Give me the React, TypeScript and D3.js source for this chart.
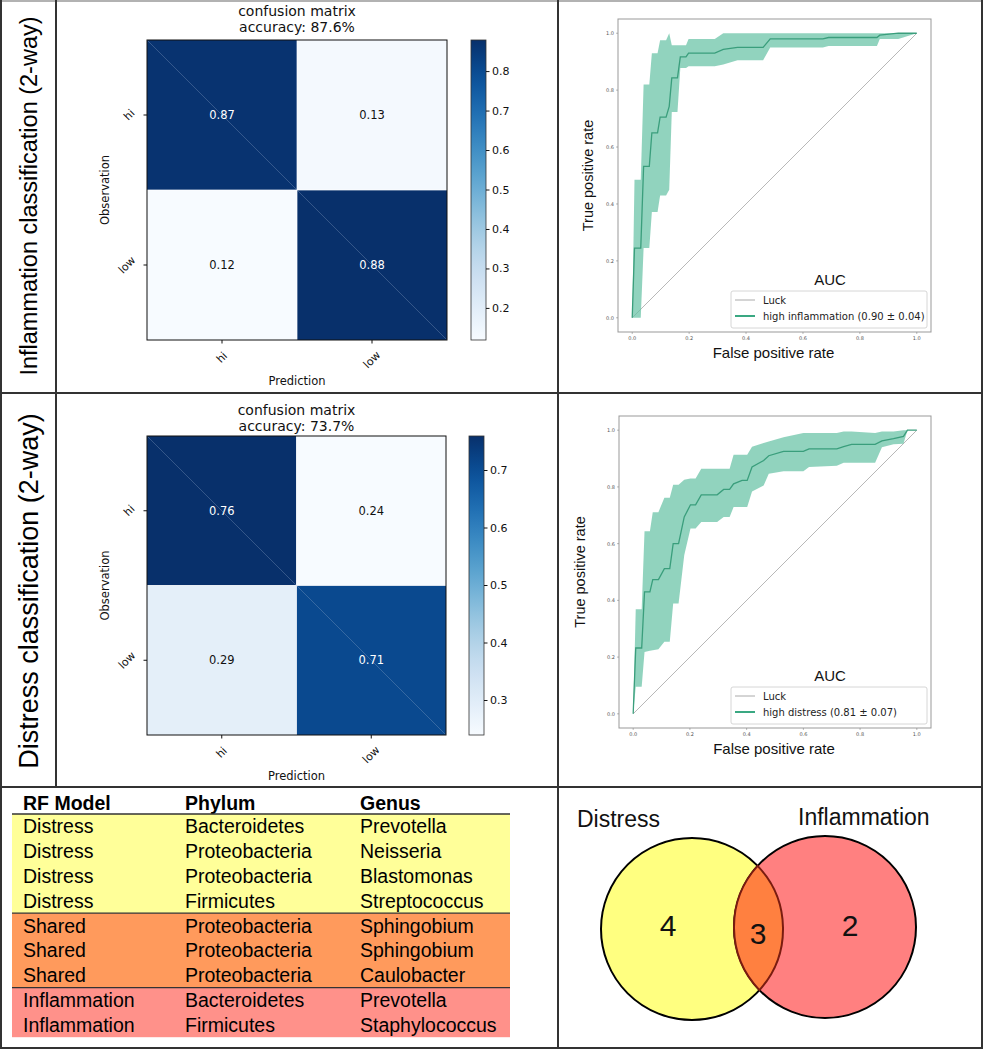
import React from "react";
import * as d3 from "d3";

const W = 1000;
const H = 1050;

// ---------- data ----------
const classes = ["hi", "low"];
const inflammationMatrix = [
  [0.87, 0.13],
  [0.12, 0.88],
];
const distressMatrix = [
  [0.76, 0.24],
  [0.29, 0.71],
];
const inflammationAccuracy = "87.6%";
const distressAccuracy = "73.7%";
const inflammationCbTicks = [0.2, 0.3, 0.4, 0.5, 0.6, 0.7, 0.8];
const distressCbTicks = [0.3, 0.4, 0.5, 0.6, 0.7];
const rocTicks = [0, 0.2, 0.4, 0.6, 0.8, 1.0];

const inflFpr = [0, 0.008, 0.03, 0.04, 0.06, 0.069, 0.089, 0.098, 0.119, 0.13, 0.139, 0.159, 0.169, 0.189, 0.198, 0.29, 0.32, 0.37, 0.46, 0.485, 0.67, 0.69, 0.86, 0.87, 0.935, 1.0];
const inflMean = [0, 0.245, 0.245, 0.532, 0.532, 0.65, 0.65, 0.705, 0.705, 0.743, 0.843, 0.843, 0.917, 0.917, 0.93, 0.93, 0.943, 0.95, 0.95, 0.98, 0.98, 0.985, 0.985, 0.993, 1.0, 1.0];
const inflUpper = [0, 0.485, 0.485, 0.82, 0.82, 0.93, 0.93, 0.975, 0.975, 1.0, 0.958, 0.958, 0.958, 0.958, 0.98, 0.98, 1.0, 1.0, 1.0, 1.0, 1.0, 1.0, 1.0, 1.0, 1.0, 1.0];
const inflLower = [0, 0, 0, 0.245, 0.245, 0.372, 0.372, 0.43, 0.43, 0.45, 0.723, 0.723, 0.878, 0.878, 0.884, 0.884, 0.89, 0.905, 0.905, 0.95, 0.95, 0.955, 0.955, 0.98, 0.98, 1.0];

const distFpr = [0, 0.009, 0.03, 0.04, 0.059, 0.069, 0.089, 0.11, 0.129, 0.141, 0.16, 0.18, 0.202, 0.22, 0.24, 0.296, 0.319, 0.34, 0.354, 0.384, 0.402, 0.419, 0.46, 0.478, 0.53, 0.6, 0.62, 0.718, 0.742, 0.77, 0.853, 0.877, 0.918, 0.953, 0.967, 1.0];
const distMean = [0, 0.232, 0.232, 0.43, 0.43, 0.473, 0.473, 0.512, 0.512, 0.6, 0.6, 0.694, 0.737, 0.737, 0.772, 0.772, 0.791, 0.791, 0.811, 0.823, 0.823, 0.87, 0.893, 0.91, 0.925, 0.925, 0.934, 0.934, 0.942, 0.95, 0.95, 0.962, 0.97, 0.978, 1.0, 1.0];
const distUpper = [0, 0.369, 0.369, 0.644, 0.644, 0.711, 0.711, 0.762, 0.762, 0.808, 0.808, 0.825, 0.83, 0.83, 0.864, 0.864, 0.864, 0.864, 0.913, 0.913, 0.913, 0.942, 0.955, 0.96, 0.975, 0.99, 0.99, 0.99, 0.995, 0.995, 0.99, 0.995, 0.995, 1.0, 1.0, 1.0];
const distLower = [0, 0.095, 0.095, 0.218, 0.222, 0.224, 0.228, 0.254, 0.254, 0.389, 0.389, 0.559, 0.653, 0.653, 0.676, 0.676, 0.694, 0.694, 0.729, 0.729, 0.729, 0.784, 0.805, 0.846, 0.855, 0.855, 0.87, 0.875, 0.885, 0.885, 0.885, 0.94, 0.95, 0.952, 1.0, 1.0];

const rowLabels = ["Inflammation classification (2-way)", "Distress classification (2-way)"];
const rocLegendLabels = ["high inflammation (0.90 \u00b1 0.04)", "high distress (0.81 \u00b1 0.07)"];

const tableHeader = ["RF Model", "Phylum", "Genus"];
const tableModel = ["Distress", "Distress", "Distress", "Distress", "Shared", "Shared", "Shared", "Inflammation", "Inflammation"];
const tablePhylum = ["Bacteroidetes", "Proteobacteria", "Proteobacteria", "Firmicutes", "Proteobacteria", "Proteobacteria", "Proteobacteria", "Bacteroidetes", "Firmicutes"];
const tableGenus = ["Prevotella", "Neisseria", "Blastomonas", "Streptococcus", "Sphingobium", "Sphingobium", "Caulobacter", "Prevotella", "Staphylococcus"];
const groupColors: Record<string, string> = { Distress: "#ffff99", Shared: "#ff9a5c", Inflammation: "#ff918a" };

const vennLabels = ["Distress", "Inflammation"];
const vennCounts = [4, 3, 2];

const SANS = "'Liberation Sans', Arial, sans-serif";
const DEJAVU = "'DejaVu Sans', sans-serif";

// ---------- confusion matrix ----------
function ConfusionMatrix(props: any) {
  const { id, x0, y0, size, matrix, accuracy, cbX, cbW, cbTicks, titleY } = props;
  const flat: number[] = matrix.flat();
  const vmin = d3.min(flat) as number;
  const vmax = d3.max(flat) as number;
  const color = d3.scaleSequential(d3.interpolateBlues).domain([vmin, vmax]);
  const band = d3.scaleBand().domain(classes).range([0, size]);
  const cb = d3.scaleLinear().domain([vmin, vmax]).range([y0 + size, y0]);
  const stops = d3.range(0, 1.0001, 0.05);
  const fs = 11;
  const cx = x0 + size / 2;
  return (
    <g>
      <defs>
        <linearGradient id={id} x1="0" y1="1" x2="0" y2="0">
          {stops.map((t) => (
            <stop key={t} offset={`${t * 100}%`} stopColor={d3.interpolateBlues(t)} />
          ))}
        </linearGradient>
      </defs>
      <text x={cx} y={titleY} textAnchor="middle" fontFamily={DEJAVU} fontSize={14} fill="#111">confusion matrix</text>
      <text x={cx} y={titleY + 16} textAnchor="middle" fontFamily={DEJAVU} fontSize={14} fill="#111">{`accuracy: ${accuracy}`}</text>
      {matrix.map((row: number[], i: number) =>
        row.map((v: number, j: number) => (
          <rect key={`${i}-${j}`} x={x0 + (band(classes[j]) as number)} y={y0 + (band(classes[i]) as number)} width={band.bandwidth()} height={band.bandwidth()} fill={color(v)} />
        ))
      )}
      <line x1={x0 + size / 2} x2={x0 + size / 2} y1={y0} y2={y0 + size} stroke="#ffffff" strokeOpacity={0.7} strokeWidth={1} />
      <line x1={x0} x2={x0 + size} y1={y0 + size / 2} y2={y0 + size / 2} stroke="#ffffff" strokeOpacity={0.7} strokeWidth={1} />
      <line x1={x0} y1={y0} x2={x0 + size} y2={y0 + size} stroke="#9fb3cf" strokeOpacity={0.3} strokeWidth={1} />
      {matrix.map((row: number[], i: number) =>
        row.map((v: number, j: number) => (
          <text key={`t${i}-${j}`} x={x0 + (band(classes[j]) as number) + band.bandwidth() / 2} y={y0 + (band(classes[i]) as number) + band.bandwidth() / 2} textAnchor="middle" dominantBaseline="central" fontFamily={DEJAVU} fontSize={11.5} fill={v > vmax / 2 ? "#ffffff" : "#111"}>
            {v.toFixed(2)}
          </text>
        ))
      )}
      <rect x={x0} y={y0} width={size} height={size} fill="none" stroke="#111" strokeWidth={1} />
      {classes.map((c) => {
        const yc = y0 + (band(c) as number) + band.bandwidth() / 2;
        const w = c.length * 0.6 * fs;
        const bw = (w + fs) * 0.707;
        const lx = x0 - 9 - bw / 2;
        return (
          <g key={`y${c}`}>
            <line x1={x0} x2={x0 - 3.5} y1={yc} y2={yc} stroke="#111" />
            <text x={lx} y={yc} transform={`rotate(-45 ${lx} ${yc})`} textAnchor="middle" dominantBaseline="central" fontFamily={DEJAVU} fontSize={fs} fill="#111">{c}</text>
          </g>
        );
      })}
      {classes.map((c) => {
        const xc = x0 + (band(c) as number) + band.bandwidth() / 2;
        const w = c.length * 0.6 * fs;
        const bh = (w + fs) * 0.707;
        const ly = y0 + size + 9 + bh / 2;
        return (
          <g key={`x${c}`}>
            <line x1={xc} x2={xc} y1={y0 + size} y2={y0 + size + 3.5} stroke="#111" />
            <text x={xc} y={ly} transform={`rotate(-45 ${xc} ${ly})`} textAnchor="middle" dominantBaseline="central" fontFamily={DEJAVU} fontSize={fs} fill="#111">{c}</text>
          </g>
        );
      })}
      <text x={105} y={y0 + size / 2} transform={`rotate(-90 105 ${y0 + size / 2})`} textAnchor="middle" dominantBaseline="central" fontFamily={DEJAVU} fontSize={11.5} fill="#111">Observation</text>
      <text x={cx} y={y0 + size + 45} textAnchor="middle" fontFamily={DEJAVU} fontSize={11.5} fill="#111">Prediction</text>
      <rect x={cbX} y={y0} width={cbW} height={size} fill={`url(#${id})`} stroke="#333" strokeWidth={0.8} />
      {cbTicks.map((t: number) => (
        <g key={`cb${t}`}>
          <line x1={cbX + cbW} x2={cbX + cbW + 3.5} y1={cb(t)} y2={cb(t)} stroke="#111" />
          <text x={cbX + cbW + 6} y={cb(t)} dominantBaseline="central" fontFamily={DEJAVU} fontSize={11} fill="#111">{t.toFixed(1)}</text>
        </g>
      ))}
    </g>
  );
}

// ---------- ROC ----------
function Roc(props: any) {
  const { left, top, width, height, fpr, mean, lower, upper, legend, yLabelX } = props;
  const xs = d3.scaleLinear().domain([-0.05, 1.05]).range([left, left + width]);
  const ys = d3.scaleLinear().domain([-0.05, 1.05]).range([top + height, top]);
  const idx = d3.range(fpr.length);
  const area = d3.area<number>().x((i) => xs(fpr[i])).y0((i) => ys(lower[i])).y1((i) => ys(upper[i]));
  const line = d3.line<number>().x((i) => xs(fpr[i])).y((i) => ys(mean[i]));
  const lgW = 196;
  const lgH = 37;
  const lgX = left + width - 4 - lgW;
  const lgY = top + height - 4 - lgH;
  return (
    <g>
      <rect x={left} y={top} width={width} height={height} fill="#fff" stroke="#999" strokeWidth={1} />
      <line x1={xs(0)} y1={ys(0)} x2={xs(1)} y2={ys(1)} stroke="#b8b8b8" strokeWidth={1} />
      <path d={area(idx) as string} fill="#66c2a5" fillOpacity={0.72} stroke="none" />
      <path d={line(idx) as string} fill="none" stroke="#3a9e7c" strokeWidth={1.3} />
      {rocTicks.map((t) => (
        <g key={`rx${t}`}>
          <line x1={xs(t)} x2={xs(t)} y1={top + height} y2={top + height + 2} stroke="#777" strokeWidth={0.5} />
          <text x={xs(t)} y={top + height + 8} textAnchor="middle" fontFamily={DEJAVU} fontSize={5} fill="#555">{t.toFixed(1)}</text>
          <line x1={left} x2={left - 2} y1={ys(t)} y2={ys(t)} stroke="#777" strokeWidth={0.5} />
          <text x={left - 4} y={ys(t)} textAnchor="end" dominantBaseline="central" fontFamily={DEJAVU} fontSize={5} fill="#555">{t.toFixed(1)}</text>
        </g>
      ))}
      <text x={yLabelX} y={top + height / 2} transform={`rotate(-90 ${yLabelX} ${top + height / 2})`} textAnchor="middle" dominantBaseline="central" fontFamily={SANS} fontSize={14.5} fill="#111">True positive rate</text>
      <text x={left + width / 2 - 1} y={top + height + 26} textAnchor="middle" fontFamily={SANS} fontSize={15} fill="#111">False positive rate</text>
      <text x={lgX + 99} y={lgY - 6} textAnchor="middle" fontFamily={SANS} fontSize={15} fill="#111">AUC</text>
      <rect x={lgX} y={lgY} width={lgW} height={lgH} rx={2} fill="#fff" stroke="#ccc" strokeWidth={0.8} />
      <line x1={lgX + 4} x2={lgX + 24} y1={lgY + 9} y2={lgY + 9} stroke="#aaa" strokeWidth={1} />
      <text x={lgX + 32} y={lgY + 9} dominantBaseline="central" fontFamily={DEJAVU} fontSize={10} fill="#222">Luck</text>
      <line x1={lgX + 4} x2={lgX + 24} y1={lgY + 25} y2={lgY + 25} stroke="#3aa882" strokeWidth={2} />
      <text x={lgX + 32} y={lgY + 25} dominantBaseline="central" fontFamily={DEJAVU} fontSize={10} fill="#222">{legend}</text>
    </g>
  );
}

// ---------- table ----------
function GenusTable() {
  const colX = [23, 185, 360];
  const bandX0 = 12;
  const bandX1 = 510;
  const startY = 814;
  const rowH = 24.8;
  const fs = 19.5;
  const groups: { name: string; start: number; end: number }[] = [];
  tableModel.forEach((m, i) => {
    const g = groups[groups.length - 1];
    if (g && g.name === m) g.end = i + 1;
    else groups.push({ name: m, start: i, end: i + 1 });
  });
  return (
    <g>
      {tableHeader.map((h, i) => (
        <text key={h} x={colX[i]} y={810} fontFamily={SANS} fontWeight="bold" fontSize={fs} fill="#000">{h}</text>
      ))}
      {groups.map((g) => (
        <rect key={g.name} x={bandX0} y={startY + g.start * rowH} width={bandX1 - bandX0} height={(g.end - g.start) * rowH} fill={groupColors[g.name]} />
      ))}
      {groups.map((g) => (
        <line key={`l${g.name}`} x1={bandX0} x2={bandX1} y1={startY + g.start * rowH} y2={startY + g.start * rowH} stroke="#333" strokeWidth={1.3} />
      ))}
      {tableModel.map((m, i) => {
        const yb = startY + i * rowH + rowH / 2 + 7;
        return (
          <g key={`r${i}`}>
            <text x={colX[0]} y={yb} fontFamily={SANS} fontSize={fs} fill="#000">{m}</text>
            <text x={colX[1]} y={yb} fontFamily={SANS} fontSize={fs} fill="#000">{tablePhylum[i]}</text>
            <text x={colX[2]} y={yb} fontFamily={SANS} fontSize={fs} fill="#000">{tableGenus[i]}</text>
          </g>
        );
      })}
    </g>
  );
}

// ---------- venn ----------
function Venn() {
  const c1 = { x: 692, y: 929, r: 91 };
  const c2 = { x: 825, y: 927, r: 91 };
  const dx = c2.x - c1.x;
  const dy = c2.y - c1.y;
  const d = Math.hypot(dx, dy);
  const a = (c1.r * c1.r - c2.r * c2.r + d * d) / (2 * d);
  const h = Math.sqrt(c1.r * c1.r - a * a);
  const px = c1.x + (a * dx) / d;
  const py = c1.y + (a * dy) / d;
  const p1 = { x: px + (h * dy) / d, y: py - (h * dx) / d };
  const p2 = { x: px - (h * dy) / d, y: py + (h * dx) / d };
  const top = p1.y < p2.y ? p1 : p2;
  const bot = p1.y < p2.y ? p2 : p1;
  const lens = `M${top.x},${top.y} A${c1.r},${c1.r} 0 0 1 ${bot.x},${bot.y} A${c2.r},${c2.r} 0 0 1 ${top.x},${top.y} Z`;
  return (
    <g>
      <circle cx={c1.x} cy={c1.y} r={c1.r} fill="#ffff80" stroke="#000" strokeWidth={2} />
      <circle cx={c2.x} cy={c2.y} r={c2.r} fill="#ff8080" stroke="#000" strokeWidth={2} />
      <path d={lens} fill="#ff8040" stroke="#7a1c10" strokeWidth={2} />
      <text x={577} y={827} fontFamily={SANS} fontSize={23} fill="#111">{vennLabels[0]}</text>
      <text x={798} y={825} fontFamily={SANS} fontSize={23} fill="#111">{vennLabels[1]}</text>
      <text x={668} y={936} textAnchor="middle" fontFamily={SANS} fontSize={30} fill="#111">{vennCounts[0]}</text>
      <text x={758} y={944} textAnchor="middle" fontFamily={SANS} fontSize={30} fill="#111">{vennCounts[1]}</text>
      <text x={850} y={936} textAnchor="middle" fontFamily={SANS} fontSize={30} fill="#111">{vennCounts[2]}</text>
    </g>
  );
}

export default function App() {
  return (
    <div style={{ position: "absolute", left: 0, top: 0 }}>
      <svg width={W} height={H} viewBox={`0 0 ${W} ${H}`} style={{ display: "block", background: "#fff" }}>
        <rect x={0} y={0} width={W} height={H} fill="#fff" />
        {/* row labels */}
        <text x={29} y={196} transform="rotate(-90 29 196)" textAnchor="middle" dominantBaseline="central" fontFamily={SANS} fontSize={23.5} fill="#000">{rowLabels[0]}</text>
        <text x={29} y={591} transform="rotate(-90 29 591)" textAnchor="middle" dominantBaseline="central" fontFamily={SANS} fontSize={27} fill="#000">{rowLabels[1]}</text>

        <ConfusionMatrix id="cb1" x0={147} y0={40} size={300} matrix={inflammationMatrix} accuracy={inflammationAccuracy} cbX={471} cbW={15} cbTicks={inflammationCbTicks} titleY={16} />
        <ConfusionMatrix id="cb2" x0={147} y0={436} size={299} matrix={distressMatrix} accuracy={distressAccuracy} cbX={469} cbW={15} cbTicks={distressCbTicks} titleY={415} />

        <Roc left={618} top={19} width={313} height={313} fpr={inflFpr} mean={inflMean} lower={inflLower} upper={inflUpper} legend={rocLegendLabels[0]} yLabelX={588} />
        <Roc left={619} top={416} width={312} height={312} fpr={distFpr} mean={distMean} lower={distLower} upper={distUpper} legend={rocLegendLabels[1]} yLabelX={580} />

        <GenusTable />
        <Venn />

        {/* frame */}
        <line x1={0} x2={982} y1={1} y2={1} stroke="#999" strokeWidth={1.5} />
        <line x1={1} x2={1} y1={0} y2={1049} stroke="#333" strokeWidth={2} />
        <line x1={982} x2={982} y1={0} y2={1049} stroke="#333" strokeWidth={2} />
        <line x1={0} x2={983} y1={1048} y2={1048} stroke="#333" strokeWidth={2} />
        <line x1={56} x2={56} y1={0} y2={787} stroke="#333" strokeWidth={2} />
        <line x1={558} x2={558} y1={0} y2={1049} stroke="#333" strokeWidth={2} />
        <line x1={0} x2={982} y1={393} y2={393} stroke="#333" strokeWidth={2} />
        <line x1={0} x2={982} y1={787} y2={787} stroke="#333" strokeWidth={2} />
      </svg>
    </div>
  );
}
